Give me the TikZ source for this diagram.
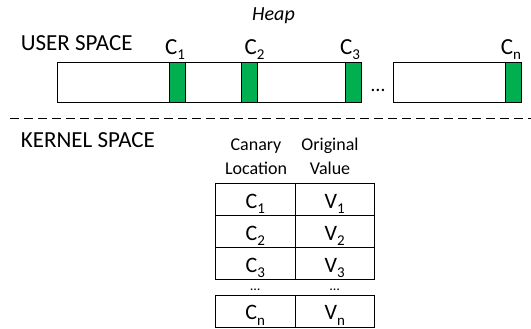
\documentclass[tikz,border=0pt]{standalone}
\usepackage{fontspec}
\setmainfont{Carlito}
\definecolor{cgreen}{HTML}{00B050}
\newcommand\subx[1]{\raisebox{-0.25em}{\fontsize{15bp}{15bp}\selectfont #1}}
\begin{document}
\begin{tikzpicture}[x=1bp,y=-1bp,
  heapbox/.style={draw, line width=1bp, inner sep=0, minimum height=40.4bp},
  canary/.style={draw, line width=1bp, fill=cgreen, inner sep=0, minimum width=16bp, minimum height=40.4bp},
  cell/.style={draw, line width=1bp, inner sep=0, minimum width=79.5bp, minimum height=32bp},
  lbl/.style={inner sep=0, anchor=base west, font=\fontsize{23bp}{25bp}\selectfont},
  cval/.style={inner sep=0, anchor=base, font=\fontsize{22bp}{24bp}\selectfont},
  hdr/.style={inner sep=0, anchor=base, font=\fontsize{18bp}{20bp}\selectfont}]
\useasboundingbox (0,0) rectangle (531,328);
% heap
\node[inner sep=0, anchor=base, font=\fontsize{20bp}{22bp}\selectfont\itshape] (heap) at (273.5,20.7) {Heap};
\node[lbl] (user) at (20.7,50) {USER SPACE};
\node[heapbox, minimum width=303.6bp] (h1) at (209.5,82.5) {};
\node[heapbox, minimum width=128.4bp] (h2) at (457.5,82.5) {};
\node[canary] (g1) at (177.4,82.5) {};
\node[canary] (g2) at (249.5,82.5) {};
\node[canary] (g3) at (353.3,82.5) {};
\node[canary] (gn) at (513.7,82.5) {};
\node[inner sep=0, anchor=base, font=\fontsize{20bp}{22bp}\selectfont] (hdots) at (378,91) {…};
\node[lbl] (l1) at (165,54) {C\subx{1}};
\node[lbl] (l2) at (244.3,54) {C\subx{2}};
\node[lbl] (l3) at (340,54) {C\subx{3}};
\node[lbl] (ln) at (500.7,54) {C\subx{n}};
% separator
\coordinate (sepL) at (10,118);
\coordinate (sepR) at (531,118);
\draw[line width=1bp, dash pattern=on 9bp off 5bp] (sepL) -- (sepR);
% kernel
\node[lbl] (kernel) at (20.7,147.3) {KERNEL SPACE};
\node[hdr] (hc1) at (256,150.7) {Canary};
\node[hdr] (hc2) at (256,174) {Location};
\node[hdr] (ho1) at (330,150.7) {Original};
\node[hdr] (ho2) at (330,174) {Value};
% table
\node[cell] (t11) at (255.25,199) {};
\node[cell] (t12) at (334.75,199) {};
\node[cell] (t21) at (255.25,231) {};
\node[cell] (t22) at (334.75,231) {};
\node[cell] (t31) at (255.25,263) {};
\node[cell] (t32) at (334.75,263) {};
\node[cell] (tn1) at (255.25,311) {};
\node[cell] (tn2) at (334.75,311) {};
\node[cval] (c1) at (255.25,208) {C\subx{1}};
\node[cval] (v1) at (334.75,208) {V\subx{1}};
\node[cval] (c2) at (255.25,240) {C\subx{2}};
\node[cval] (v2) at (334.75,240) {V\subx{2}};
\node[cval] (c3) at (255.25,272) {C\subx{3}};
\node[cval] (v3) at (334.75,272) {V\subx{3}};
\node[cval] (cn) at (255.25,319.5) {C\subx{n}};
\node[cval] (vn) at (334.75,319.5) {V\subx{n}};
\node[inner sep=0, anchor=base, font=\fontsize{14bp}{16bp}\selectfont] (td1) at (255.25,290) {…};
\node[inner sep=0, anchor=base, font=\fontsize{14bp}{16bp}\selectfont] (td2) at (334.75,290) {…};
\end{tikzpicture}
\end{document}
